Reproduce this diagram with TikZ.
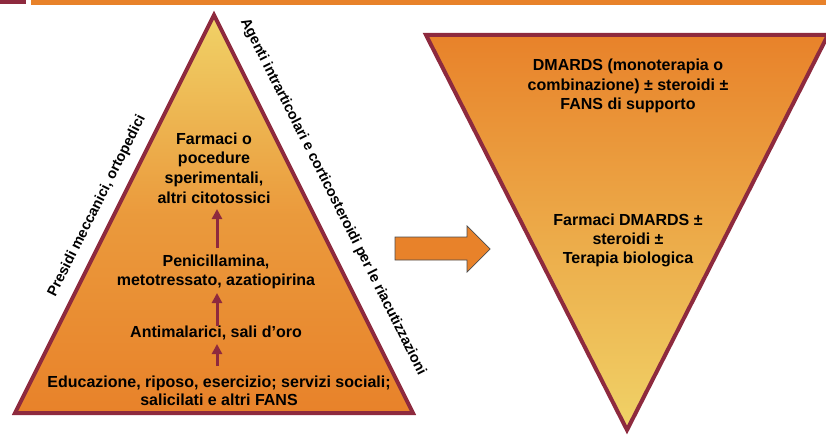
\documentclass[tikz,border=0pt]{standalone}
\usepackage{fontspec}
\setmainfont{Liberation Sans}
\usetikzlibrary{arrows.meta}
\definecolor{dred}{HTML}{8E2A3E}
\definecolor{orng}{HTML}{E8822A}
\definecolor{ylw}{HTML}{F0D267}
\begin{document}
\begin{tikzpicture}[x=1pt,y=-1pt,
  lbl/.style={font=\bfseries\fontsize{16}{19.7}\selectfont, align=center, text=black, inner sep=0pt},
  side/.style={font=\bfseries\fontsize{14.5}{16}\selectfont, text=black, inner sep=0pt},
  uparrow/.style={draw=dred, line width=3pt, -{Triangle[width=10pt,length=10pt]}},
  tri/.style={draw=dred, line width=4pt, line join=miter}]
\useasboundingbox (0,0) rectangle (826,436);
\clip (0,0) rectangle (826,436);
% top bars
\fill[dred] (0,0) rectangle (26,4.5);
\fill[orng] (31,0) rectangle (826,5);
% left pyramid
\shade[top color=ylw, bottom color=orng, middle color=orng!70!ylw] (15,413) -- (214,15) -- (413,413) -- cycle;
\draw[tri] (15,413) -- (214,15) -- (413,413) -- cycle;
% right inverted triangle
\shade[top color=orng, bottom color=ylw] (426,35) -- (828,35) -- (627,430) -- cycle;
\draw[tri] (426,35) -- (828,35) -- (627,430) -- cycle;
% big arrow
\draw[fill=orng, draw=black!70, line width=0.7pt] (395,237) -- (467,237) -- (467,226) -- (490,249) -- (467,272) -- (467,260) -- (395,260) -- cycle;
% texts left
\node[lbl] (t4) at (214,168) {Farmaci o\\pocedure\\sperimentali,\\altri citotossici};
\node[lbl] (t3) at (216,272) {Penicillamina,\\metotressato, azatiopirina};
\node[lbl] (t2) at (216,333) {Antimalarici, sali d’oro};
\node[lbl, font=\bfseries\fontsize{16}{18.5}\selectfont] (t1) at (219,391) {Educazione, riposo, esercizio; servizi sociali;\\salicilati e altri FANS};
\draw[uparrow] (217,248) -- (217,209);
\draw[uparrow] (217,326) -- (217,293);
\draw[uparrow] (217,366) -- (217,344);
% side labels
\node[side, rotate=63.3] (sl) at (97,206) {Presidi meccanici, ortopedici};
\node[side, rotate=-63.3] (sr) at (333,197) {Agenti intrarticolari e corticosteroidi per le riacutizzazioni};
% texts right
\node[lbl] (r1) at (628,86) {DMARDS (monoterapia o\\combinazione) ± steroidi ±\\FANS di supporto};
\node[lbl, font=\bfseries\fontsize{16}{19}\selectfont] (r2) at (628,240) {Farmaci DMARDS ±\\steroidi ±\\Terapia biologica};
\end{tikzpicture}
\end{document}
